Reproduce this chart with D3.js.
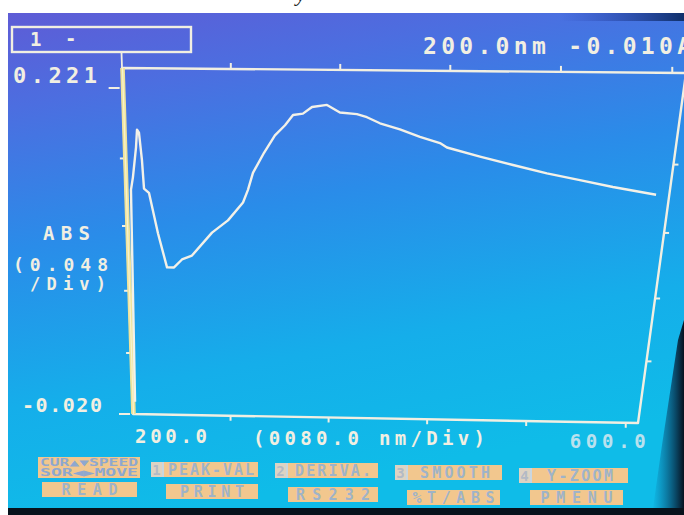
<!DOCTYPE html>
<html><head><meta charset="utf-8">
<script src="https://cdn.jsdelivr.net/npm/d3@7/dist/d3.min.js"></script>
<style>html,body{margin:0;padding:0;background:#fff;}svg{display:block;}</style>
</head><body>
<svg id="c" width="684" height="515"></svg>
<script>
// ---- data ----
const wavelength = [202, 203.9, 205.7, 208.7, 209.8, 211.2, 212.9, 213.9, 217.6, 223.8, 230.3, 235.8, 242.1, 249.9, 265.6, 277.9, 289.4, 293.1, 296.8, 305.0, 313.0, 320.4, 326.2, 333.5, 340.1, 351.1, 360.8, 373.4, 380.9, 390.7, 405.7, 420.8, 435.9, 441.3, 466.3, 491.3, 517.1, 542.1, 567.2, 600];
const absorbance = [-0.010, 0.151, 0.160, 0.181, 0.193, 0.191, 0.172, 0.152, 0.149, 0.120, 0.095, 0.095, 0.101, 0.104, 0.121, 0.130, 0.143, 0.152, 0.164, 0.178, 0.190, 0.197, 0.204, 0.205, 0.2095, 0.211, 0.206, 0.205, 0.203, 0.199, 0.195, 0.190, 0.186, 0.183, 0.177, 0.1715, 0.166, 0.1615, 0.157, 0.152];
const xDomain = [200, 600];
const yDomain = [-0.020, 0.221];
const xTickValues = [200, 280, 360, 440, 520, 600];
const yTickValues = [0.221, 0.173, 0.125, 0.077, 0.029, -0.020];
const yLabelTop = "0.221", yLabelBottom = "-0.020";
const xLabelLeft = "200.0", xLabelRight = "600.0";
const xAxisTitle = "(0080.0 nm/Div)";
const yAxisTitle = ["ABS", "(0.048", "/Div)"];
const headerLeft = ["1", "-"];
const headerRight = "200.0nm -0.010A";
const cursorWavelength = 200;
const keyRow1Numbers = ["1", "2", "3", "4"];
const keyRow1Labels = ["PEAK-VAL", "DERIVA.", "SMOOTH", "Y-ZOOM"];
const keyRow2Labels = ["READ", "PRINT", "RS232", "%T/ABS", "PMENU"];
const cursorKeyLines = ["CUR\u25B2\u25BCSPEED", "SOR\u25C0\u25B6MOVE"];

// ---- layout ----
const svg = d3.select("#c");
const FONT = "'DejaVu Sans Mono', 'Liberation Mono', monospace";
const INK = "#f1efe2";

// perspective quad of the screen's plot frame
const TL = [122, 68], TR = [686, 73], BR = [638, 423], BL = [133, 414];
function homography(p0, p1, p2, p3) {
  const dx1 = p1[0]-p2[0], dx2 = p3[0]-p2[0], dx3 = p0[0]-p1[0]+p2[0]-p3[0];
  const dy1 = p1[1]-p2[1], dy2 = p3[1]-p2[1], dy3 = p0[1]-p1[1]+p2[1]-p3[1];
  const det = dx1*dy2 - dx2*dy1;
  const g = (dx3*dy2 - dx2*dy3)/det, h = (dx1*dy3 - dx3*dy1)/det;
  const a = p1[0]-p0[0]+g*p1[0], b = p3[0]-p0[0]+h*p3[0], c = p0[0];
  const d = p1[1]-p0[1]+g*p1[1], e = p3[1]-p0[1]+h*p3[1], f = p0[1];
  return (u, v) => { const w = g*u + h*v + 1; return [(a*u + b*v + c)/w, (d*u + e*v + f)/w]; };
}
const P = homography(TL, TR, BR, BL);
const xS = d3.scaleLinear().domain(xDomain).range([0, 0.976]);
const yS = d3.scaleLinear().domain(yDomain).range([1, 0.0521]);

// ---- screen background ----
const defs = svg.append("defs");
const lg = defs.append("linearGradient").attr("id", "scr").attr("x1", 0).attr("y1", 0).attr("x2", 0.25).attr("y2", 1);
[[0, "#5e5cd6"], [0.18, "#4c6ee0"], [0.45, "#2a8ce9"], [0.75, "#15aeea"], [1, "#0fbce8"]]
  .forEach(s => lg.append("stop").attr("offset", s[0]).attr("stop-color", s[1]));
const rg = defs.append("linearGradient").attr("id", "dark").attr("x1", 0).attr("y1", 0).attr("x2", 1).attr("y2", 0);
rg.append("stop").attr("offset", 0).attr("stop-color", "#0b4a80").attr("stop-opacity", 0);
rg.append("stop").attr("offset", 1).attr("stop-color", "#06101e");
const tg = defs.append("linearGradient").attr("id", "topdark").attr("x1", 0).attr("y1", 0).attr("x2", 1).attr("y2", 0);
tg.append("stop").attr("offset", 0).attr("stop-color", "#2a3fae").attr("stop-opacity", 0);
tg.append("stop").attr("offset", 1).attr("stop-color", "#10306a");

svg.append("rect").attr("x", 8).attr("y", 13).attr("width", 676).attr("height", 497).attr("fill", "url(#scr)");
svg.append("rect").attr("x", 560).attr("y", 13).attr("width", 124).attr("height", 8).attr("fill", "url(#topdark)");
svg.append("path").attr("d", "M684,320 L684,515 L652,515 L662,445 L678,340 Z").attr("fill", "url(#dark)");
svg.append("rect").attr("x", 8).attr("y", 508).attr("width", 676).attr("height", 7).attr("fill", "#07121c");
svg.append("text").attr("x", 296).attr("y", 1).attr("font-family", "'Liberation Serif', serif")
  .attr("font-size", 22).attr("font-style", "italic").attr("fill", "#222").text("y");

// ---- header ----
svg.append("rect").attr("x", 12).attr("y", 27).attr("width", 179).attr("height", 25)
  .attr("fill", "none").attr("stroke", INK).attr("stroke-width", 2.4);
svg.append("text").attr("x", 30).attr("y", 46).attr("font-family", FONT).attr("font-weight", "bold").attr("font-size", 19).attr("fill", INK).text(headerLeft[0]);
svg.append("text").attr("x", 65).attr("y", 45).attr("font-family", FONT).attr("font-weight", "bold").attr("font-size", 19).attr("fill", INK).text(headerLeft[1]);
svg.append("text").attr("x", 423).attr("y", 54).attr("font-family", FONT).attr("font-weight", "bold").attr("font-size", 23)
  .attr("textLength", 268).attr("lengthAdjust", "spacing").attr("fill", INK).text(headerRight);

// ---- frame ----
const g = svg.append("g");
const frame = [[0, 0], [1, 0], [1, 1], [0, 1]].map(p => P(p[0], p[1]));
g.append("path").attr("d", "M" + frame.join("L") + "Z").attr("fill", "none")
  .attr("stroke", INK).attr("stroke-width", 2.4).attr("stroke-linejoin", "round");

// ticks
const tick = (a, b) => g.append("line").attr("x1", a[0]).attr("y1", a[1]).attr("x2", b[0]).attr("y2", b[1])
  .attr("stroke", INK).attr("stroke-width", 2);
xTickValues.slice(1).forEach(t => {
  const top = P(xS(t), 0), bot = P(xS(t), 1);
  tick(top, [top[0], top[1] - 6]);
  tick(bot, [bot[0], bot[1] + 5]);
});
yTickValues.forEach((t, i) => {
  const l = P(0, yS(t)), r = P(1, yS(t));
  const long = (i === 0 || i === yTickValues.length - 1);
  tick([l[0] - (long ? 3 : 0), l[1]], [l[0] - (long ? 14 : 5), l[1]]);
  if (!long) tick(r, [r[0] + 5, r[1]]);
});

// cursor (yellow) at 200 nm
const c0 = P(xS(cursorWavelength), -0.04), c1 = P(xS(cursorWavelength), 1);
const cTop = P(xS(cursorWavelength), 0.0);
g.append("line").attr("x1", c0[0]).attr("y1", c0[1]).attr("x2", c1[0]).attr("y2", c1[1])
  .attr("stroke", INK).attr("stroke-width", 1.8);
g.append("line").attr("x1", cTop[0] + 0.5).attr("y1", cTop[1]).attr("x2", c1[0] + 0.5).attr("y2", c1[1])
  .attr("stroke", "#efe39a").attr("stroke-width", 4.6);
g.append("line").attr("x1", cTop[0] + 0.5).attr("y1", cTop[1]).attr("x2", c1[0] + 0.5).attr("y2", c1[1])
  .attr("stroke", "#f6f2d2").attr("stroke-width", 1.2);

// ---- spectrum ----
const pts = wavelength.map((w, i) => P(xS(w), yS(absorbance[i])));
g.append("path").attr("d", d3.line()(pts)).attr("fill", "none")
  .attr("stroke", "#f3f1e8").attr("stroke-width", 2.4).attr("stroke-linejoin", "round");

// ---- axis labels ----
const txt = (x, y, s, size, len, fill, opacity) => svg.append("text").attr("x", x).attr("y", y)
  .attr("font-family", FONT).attr("font-weight", "bold").attr("font-size", size).attr("fill", fill || INK)
  .attr("fill-opacity", opacity || 1)
  .attr("textLength", len).attr("lengthAdjust", "spacing").text(s);
const pTop = P(0, yS(yDomain[1])), pBot = P(0, yS(yDomain[0]));
txt(13, pTop[1] - 5, yLabelTop, 22, 84);
txt(22, pBot[1] - 2, yLabelBottom, 20, 80);
txt(43, 240, yAxisTitle[0], 19, 47);
txt(13, 271, yAxisTitle[1], 18, 95);
txt(30, 290, yAxisTitle[2], 17, 76);
const b200 = P(xS(xDomain[0]), 1);
txt(b200[0] + 2, b200[1] + 29, xLabelLeft, 19, 72);
txt(253, 445, xAxisTitle, 19, 232);
const b600 = P(xS(xDomain[1]), 1);
txt(b600[0] - 56, b600[1] + 25, xLabelRight, 19, 76, "#e9ecf0", 0.8);

// ---- soft keys ----
const BTN = "#f2c78e", BTXT = "#9fb3c8", NUM = "#ddd3c3";
function key(x, y, w, h, label, bg, fs, col, len) {
  svg.append("rect").attr("x", x).attr("y", y).attr("width", w).attr("height", h).attr("fill", bg);
  svg.append("text").attr("x", x + w / 2).attr("y", y + h - 2.5).attr("text-anchor", "middle")
    .attr("font-family", FONT).attr("font-weight", "bold").attr("font-size", fs).attr("fill", col)
    .attr("textLength", len).attr("lengthAdjust", "spacing").text(label);
}
// cursor key box
svg.append("rect").attr("x", 38).attr("y", 457).attr("width", 102).attr("height", 21).attr("fill", BTN);
cursorKeyLines.forEach((s, i) => svg.append("text").attr("x", 40).attr("y", 466 + i * 10)
  .attr("font-family", FONT).attr("font-weight", "bold").attr("font-size", 10).attr("fill", "#8ea7cf")
  .attr("textLength", 98).attr("lengthAdjust", "spacingAndGlyphs").text(s));
const r1 = [{nx: 151, x: 164, w: 94, y: 462, len: 86}, {nx: 275, x: 288, w: 90, y: 463, len: 76}, {nx: 395, x: 408, w: 94, y: 465, len: 70}, {nx: 519, x: 532, w: 96, y: 468, len: 66}];
keyRow1Labels.forEach((s, i) => {
  const k = r1[i];
  svg.append("rect").attr("x", k.nx).attr("y", k.y).attr("width", 11).attr("height", 15).attr("fill", NUM);
  svg.append("text").attr("x", k.nx + 5.5).attr("y", k.y + 13).attr("text-anchor", "middle")
    .attr("font-family", FONT).attr("font-weight", "bold").attr("font-size", 14).attr("fill", "#b3bac6").text(keyRow1Numbers[i]);
  svg.append("rect").attr("x", k.nx + 11).attr("y", k.y).attr("width", 2).attr("height", 15).attr("fill", "#c9d6df");
  key(k.x, k.y, k.w, 15, s, BTN, 15, BTXT, k.len);
});
const r2 = [{x: 42, w: 95, y: 482, len: 56}, {x: 166, w: 92, y: 484, len: 64}, {x: 288, w: 90, y: 487, len: 74}, {x: 407, w: 93, y: 490, len: 82}, {x: 530, w: 93, y: 490, len: 72}];
keyRow2Labels.forEach((s, i) => { const k = r2[i]; key(k.x, k.y, k.w, 15, s, BTN, 15, BTXT, k.len); });
</script>
</body></html>
